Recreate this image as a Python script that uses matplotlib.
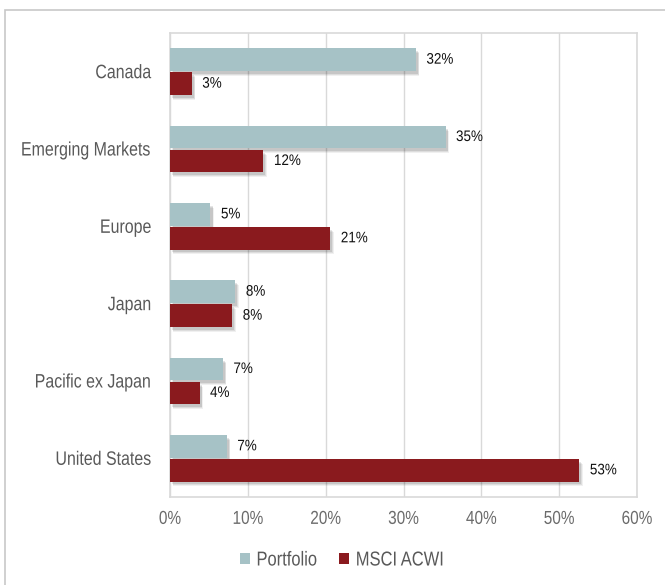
import matplotlib
matplotlib.use("Agg")
import matplotlib.pyplot as plt
import matplotlib.patheffects as pe
from matplotlib.patches import Rectangle
from matplotlib.transforms import Affine2D
import numpy as np

categories = ["Canada", "Emerging Markets", "Europe", "Japan", "Pacific ex Japan", "United States"]
portfolio = [31.6, 35.4, 5.2, 8.4, 6.8, 7.3]
msci_acwi = [2.8, 12.0, 20.6, 8.0, 3.8, 52.6]
series_names = ["Portfolio", "MSCI ACWI"]
xticks = [0, 10, 20, 30, 40, 50, 60]

c_port = "#a6c2c6"
c_msci = "#8a1a1e"
txt_grey = "#595959"
tick_grey = "#6b6b6b"
grid_c = "#d9d9d9"

regular = ["Liberation Sans", "DejaVu Sans"]


class HSqueeze(pe.AbstractPathEffect):
    """Horizontally condense text (the reference uses a narrow face)."""

    def __init__(self, sx=0.82, anchor="left"):
        super().__init__()
        self.sx = sx
        self.anchor = anchor

    def draw_path(self, renderer, gc, tpath, affine, rgbFace=None):
        ext = tpath.get_extents(affine)
        if self.anchor == "right":
            a = ext.x1
        elif self.anchor == "center":
            a = 0.5 * (ext.x0 + ext.x1)
        else:
            a = ext.x0
        new = affine + Affine2D().translate(-a, 0).scale(self.sx, 1).translate(a, 0)
        renderer.draw_path(gc, tpath, new, rgbFace)


fig = plt.figure(figsize=(6.65, 5.85), dpi=100)
fig.patch.set_facecolor("white")
fig.patches.append(Rectangle((5 / 665, -0.05), 1.2, 1 - 10 / 585 + 0.05,
                             transform=fig.transFigure, fill=False,
                             edgecolor="#c8c8c8", linewidth=1.2))

ax = fig.add_axes([170 / 665, 1 - 497 / 585, (637 - 170) / 665, (497 - 33) / 585])

y = np.arange(len(categories))
h = 0.29
off = 0.155

shadow = [pe.SimplePatchShadow(offset=(2.5, -3.5), shadow_rgbFace="#000000", alpha=0.06),
          pe.SimplePatchShadow(offset=(2, -2.8), shadow_rgbFace="#000000", alpha=0.08),
          pe.SimplePatchShadow(offset=(1.5, -2), shadow_rgbFace="#000000", alpha=0.1),
          pe.Normal()]

b1 = ax.barh(y - off, portfolio, height=h, color=c_port, label=series_names[0], zorder=3)
b2 = ax.barh(y + off, msci_acwi, height=h, color=c_msci, label=series_names[1], zorder=3)
for bars in (b1, b2):
    for p in bars:
        p.set_path_effects(shadow)

for bars, vals in ((b1, portfolio), (b2, msci_acwi)):
    for p, v in zip(bars, vals):
        t = ax.annotate(f"{v:.0f}%", (v, p.get_y() + p.get_height() / 2),
                        xytext=(7.5, 0), textcoords="offset points",
                        ha="left", va="center", fontsize=11, color="#111111",
                        family=regular, zorder=4)
        t.set_path_effects([HSqueeze(0.88, "left")])

ax.set_xlim(0, 60)
ax.set_ylim(len(categories) - 0.5, -0.5)
ax.set_xticks(xticks)
ax.set_xticklabels([f"{t}%" for t in xticks], family=regular, fontsize=13.5, color=tick_grey)
ax.set_yticks(y)
ax.set_yticklabels(categories, family=regular, fontsize=14, color=txt_grey)
for lab in ax.get_xticklabels():
    lab.set_path_effects([HSqueeze(0.82, "center")])
for lab in ax.get_yticklabels():
    lab.set_path_effects([HSqueeze(0.82, "right")])
ax.tick_params(axis="both", length=0)
ax.tick_params(axis="y", pad=13)
ax.tick_params(axis="x", pad=10)
ax.grid(axis="x", color=grid_c, linewidth=1, zorder=0)
ax.set_axisbelow(True)
for s in ax.spines.values():
    s.set_color(grid_c)
    s.set_linewidth(1.2)

leg = fig.legend(handles=[b1, b2], labels=series_names, loc="center left",
                 bbox_to_anchor=(230 / 665, 1 - 560 / 585), ncol=2, frameon=False,
                 prop={"family": regular, "size": 14.5},
                 handlelength=0.5, handleheight=0.5, handletextpad=0.3,
                 columnspacing=0.45, borderpad=0.0, labelcolor=txt_grey)
for hnd in leg.legend_handles:
    hnd.set_path_effects([])
for txt in leg.get_texts():
    txt.set_path_effects([HSqueeze(0.82, "left")])

fig.savefig("out.png", dpi=100, facecolor="white")
